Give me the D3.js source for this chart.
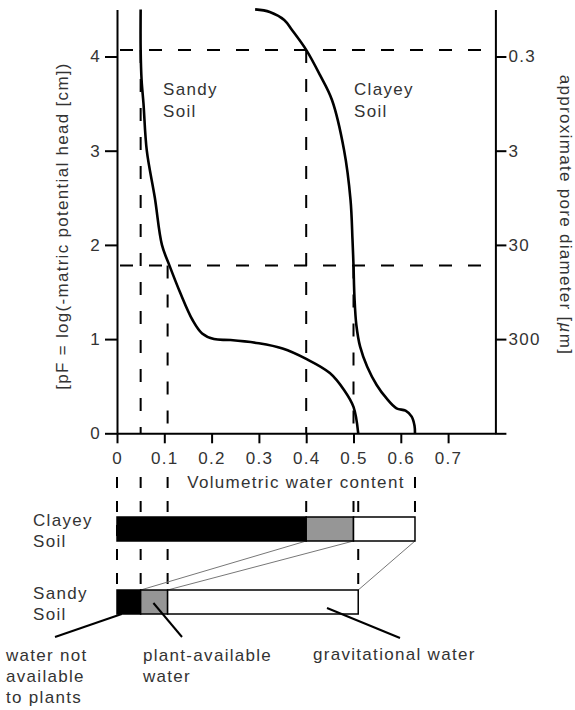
<!DOCTYPE html>
<html>
<head>
<meta charset="utf-8">
<script src="https://cdn.jsdelivr.net/npm/d3@7"></script>
<style>
  body { margin: 0; background: #fff; }
  svg text {
    font-family: "Liberation Sans", Arial, Helvetica, sans-serif;
    font-size: 17px;
    fill: #333;
    letter-spacing: 1.3px;
  }
</style>
</head>
<body>
<div id="chart"></div>
<script>
// retention curves: volumetric water content vs pF
var sandyTheta = [0.05, 0.05, 0.052, 0.056, 0.063, 0.08, 0.095, 0.111, 0.133, 0.16, 0.18, 0.205, 0.24, 0.30, 0.35, 0.40, 0.45, 0.48, 0.50, 0.51];
var sandyPF    = [4.5, 4.07, 3.75, 3.5, 3.0, 2.5, 2.0, 1.78, 1.5, 1.2, 1.06, 1.0, 0.99, 0.955, 0.9, 0.79, 0.64, 0.46, 0.28, 0];

var clayTheta = [0.292, 0.323, 0.3535, 0.370, 0.40, 0.429, 0.4545, 0.48, 0.4937, 0.4979, 0.50, 0.502, 0.506, 0.514, 0.529, 0.549, 0.57, 0.591, 0.61, 0.623, 0.629, 0.63];
var clayPF    = [4.5, 4.473, 4.388, 4.281, 4.07, 3.804, 3.538, 3.007, 2.477, 2.053, 1.78, 1.45, 1.15, 0.92, 0.707, 0.513, 0.37, 0.265, 0.24, 0.177, 0.08, 0];

// bars below the chart
var soils = ["Clayey Soil", "Sandy Soil"];
var wiltingPoint  = [0.40, 0.05];
var fieldCapacity = [0.50, 0.107];
var saturation    = [0.63, 0.51];
var refPF = [4.07, 1.78];

var xTicks = [0, 0.1, 0.2, 0.3, 0.4, 0.5, 0.6, 0.7];
var pfTicks = [0, 1, 2, 3, 4];
var poreTicks = [4, 3, 2, 1, 0];
var poreLabels = ["0.3", "3", "30", "300", ""];

(function() {
  var width = 575, height = 710;

  var svg = d3.select("#chart")
      .append("svg")
      .attr("width", width)
      .attr("height", height);

  var x = d3.scaleLinear().domain([0, 0.8]).range([117, 495.4]);
  var y = d3.scaleLinear().domain([0, 4.5]).range([433.3, 9.4]);
  var barY = d3.scalePoint().domain(soils).range([517, 590]);
  var barH = 24;

  // dashed reference lines inside the chart
  var dash = "13,16";
  refPF.forEach(function(p) {
    svg.append("line")
      .attr("x1", x(0) + 3).attr("x2", x(0.8))
      .attr("y1", y(p)).attr("y2", y(p))
      .attr("stroke", "#000").attr("stroke-width", 2)
      .attr("stroke-dasharray", dash)
  })

  soils.forEach(function(s, i) {
    [[wiltingPoint[i], refPF[0]], [fieldCapacity[i], refPF[1]]].forEach(function(d) {
      svg.append("line")
        .attr("x1", x(d[0])).attr("x2", x(d[0]))
        .attr("y1", y(d[1])).attr("y2", y(0))
        .attr("stroke", "#000").attr("stroke-width", 2)
        .attr("stroke-dasharray", dash)
    })
  })

  // dashed lines carried down to the bars
  function dropLine(theta, target) {
    var start = (theta > 0.14 && theta < 0.6) ? 501 : 477
    svg.append("line")
      .attr("x1", x(theta)).attr("x2", x(theta))
      .attr("y1", start).attr("y2", barY(target))
      .attr("stroke", "#000").attr("stroke-width", 2)
      .attr("stroke-dasharray", "11,13")
  }
  dropLine(0, soils[1])
  dropLine(wiltingPoint[1], soils[1])
  dropLine(fieldCapacity[1], soils[1])
  dropLine(saturation[1], soils[1])
  dropLine(wiltingPoint[0], soils[0])
  dropLine(fieldCapacity[0], soils[0])
  dropLine(saturation[0], soils[0])

  // curves
  var line = d3.line()
      .x(function(d) { return x(d[0]) })
      .y(function(d) { return y(d[1]) })
      .curve(d3.curveCatmullRom.alpha(0.5))

  svg.append("path")
    .datum(d3.zip(sandyTheta, sandyPF))
    .attr("d", line)
    .attr("fill", "none")
    .attr("stroke", "#000")
    .attr("stroke-width", 2.6)

  svg.append("path")
    .datum(d3.zip(clayTheta, clayPF))
    .attr("d", line)
    .attr("fill", "none")
    .attr("stroke", "#000")
    .attr("stroke-width", 2.6)

  // axes
  var left = svg.append("g")
      .attr("transform", "translate(" + x(0) + ",0)")
      .call(d3.axisLeft(y).tickValues(pfTicks).tickFormat(d3.format("d"))
        .tickSize(12).tickSizeOuter(0).tickPadding(4))

  var bottom = svg.append("g")
      .attr("transform", "translate(0," + y(0) + ")")
      .call(d3.axisBottom(x).tickValues(xTicks)
        .tickFormat(function(d) { return d === 0 ? "0" : d3.format(".1f")(d) })
        .tickSize(10).tickSizeOuter(0).tickPadding(9))

  var right = svg.append("g")
      .attr("transform", "translate(" + x(0.8) + ",0)")
      .call(d3.axisRight(y).tickValues(poreTicks)
        .tickFormat(function(d, i) { return poreLabels[i] })
        .tickSize(11).tickSizeOuter(0).tickPadding(2))

  ;[left, bottom, right].forEach(function(g) {
    g.selectAll("path, line").attr("stroke", "#000").attr("stroke-width", 2)
  })

  // connecting lines between the two bars
  ;[wiltingPoint, fieldCapacity, saturation].forEach(function(arr) {
    svg.append("line")
      .attr("x1", x(arr[1])).attr("y1", barY(soils[1]))
      .attr("x2", x(arr[0])).attr("y2", barY(soils[0]) + barH)
      .attr("stroke", "#777").attr("stroke-width", 1)
  })

  // stacked bars
  var fills = ["#000", "#969696", "#fff"]
  soils.forEach(function(s, i) {
    var edges = [0, wiltingPoint[i], fieldCapacity[i], saturation[i]]
    for (var k = 0; k < 3; k++) {
      svg.append("rect")
        .attr("x", x(edges[k]))
        .attr("y", barY(s))
        .attr("width", x(edges[k + 1]) - x(edges[k]))
        .attr("height", barH)
        .attr("fill", fills[k])
        .attr("stroke", "#000")
        .attr("stroke-width", 1.5)
    }
  })

  // text helper
  function label(lines, tx, ty, lh, anchor) {
    var t = svg.append("text")
        .attr("x", tx).attr("y", ty)
        .attr("text-anchor", anchor || "start")
    lines.forEach(function(l, j) {
      t.append("tspan").attr("x", tx).attr("y", ty + j * lh).text(l)
    })
    return t
  }

  label(["Sandy", "Soil"], 163, 95, 22)
  label(["Clayey", "Soil"], 354, 95, 22)

  soils.forEach(function(s) {
    label(s.split(" "), 33, barY(s) + 9, 21)
  })

  label(["Volumetric water content"], 296, 488, 0, "middle")

  svg.append("text")
    .attr("transform", "translate(68,226) rotate(-90)")
    .attr("text-anchor", "middle")
    .text("[pF = log(-matric potential head [cm])")

  var rl = svg.append("text")
    .attr("transform", "translate(560,215) rotate(90)")
    .attr("text-anchor", "middle")
  rl.append("tspan").text("approximate pore diameter [")
  rl.append("tspan").style("font-style", "italic").text("\u00b5")
  rl.append("tspan").text("m]")

  // pointer labels
  var sandyTop = barY(soils[1])
  var pointers = [
    { from: [x(0.01), sandyTop + barH], to: [55, 637] },
    { from: [x(0.077), sandyTop + 13], to: [182, 637] },
    { from: [x(0.444), sandyTop + 18], to: [400, 638] }
  ]
  pointers.forEach(function(p) {
    svg.append("line")
      .attr("x1", p.from[0]).attr("y1", p.from[1])
      .attr("x2", p.to[0]).attr("y2", p.to[1])
      .attr("stroke", "#000").attr("stroke-width", 2)
  })

  label(["water not", "available", "to plants"], 6, 661, 21)
  label(["plant-available", "water"], 143, 661, 21)
  label(["gravitational water"], 313, 660, 21)
})();
</script>
</body>
</html>
